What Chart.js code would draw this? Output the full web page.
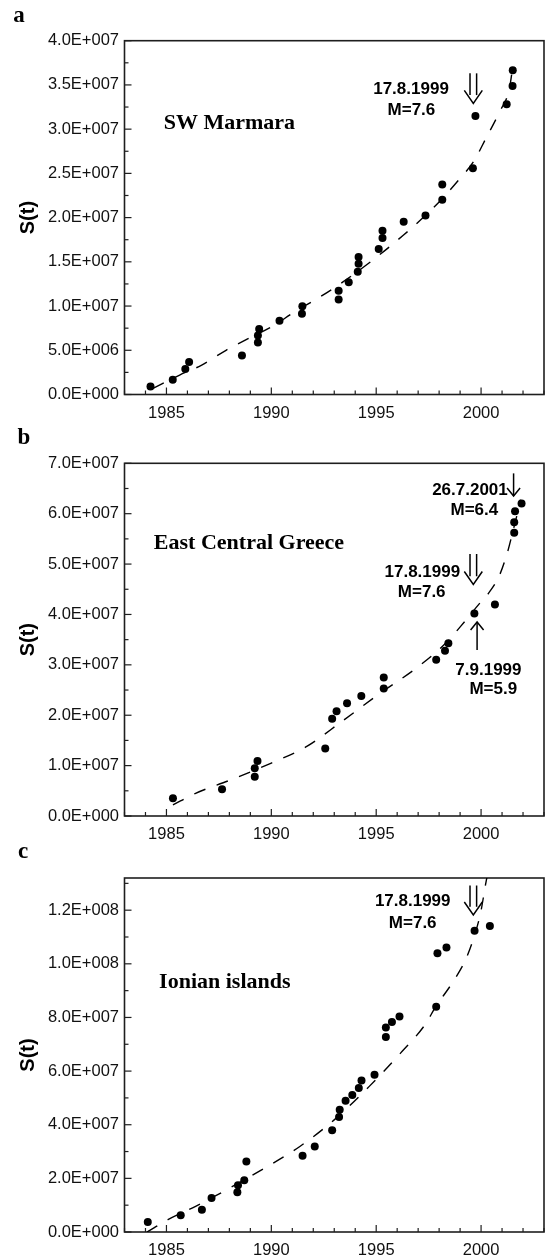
<!DOCTYPE html>
<html>
<head>
<meta charset="utf-8">
<script src="https://cdn.jsdelivr.net/npm/chart.js@4.4.1/dist/chart.umd.min.js"></script>
<style>
  body { margin: 0; background: #fff; }
  .wrap { position: absolute; left: 0; width: 548px; }
</style>
</head>
<body>
<div class="wrap" style="top:0px"><canvas id="marmara" width="548" height="425"></canvas></div>
<div class="wrap" style="top:425px"><canvas id="greece" width="548" height="420"></canvas></div>
<div class="wrap" style="top:845px"><canvas id="ionian" width="548" height="412"></canvas></div>
<script>
// a) SW Marmara
const marmaraYear = [1984.24, 1985.30, 1985.90, 1986.08, 1988.60, 1989.36, 1989.36, 1989.42, 1990.39, 1991.46,
  1991.48, 1993.21, 1993.21, 1993.69, 1994.12, 1994.16, 1994.16, 1995.12, 1995.30, 1995.30,
  1996.31, 1997.35, 1998.15, 1998.15, 1999.61, 1999.73, 2001.22, 2001.50, 2001.51];
const marmaraS = [0.9e6, 1.66e6, 2.89e6, 3.68e6, 4.42e6, 5.88e6, 6.68e6, 7.41e6, 8.33e6, 9.14e6,
  9.97e6, 10.73e6, 11.74e6, 12.68e6, 13.89e6, 14.79e6, 15.55e6, 16.45e6, 17.69e6, 18.52e6,
  19.52e6, 20.25e6, 22.01e6, 23.74e6, 25.59e6, 31.5e6, 32.82e6, 34.88e6, 36.65e6];
const marmaraFitYear = [1984.36, 1985.63, 1986.66, 1987.84, 1988.87, 1990.05, 1991.08, 1992.3, 1993.4, 1995.0,
  1996.29, 1997.24, 1998.09, 1998.93, 1999.66, 2000.24, 2000.87, 2001.35, 2001.53];
const marmaraFitS = [0.7e6, 2.2e6, 3.3e6, 5.0e6, 6.3e6, 7.7e6, 9.3e6, 11.0e6, 12.7e6, 15.5e6,
  18.0e6, 20.0e6, 22.0e6, 24.25e6, 26.4e6, 29.0e6, 31.9e6, 34.6e6, 37.4e6];

// b) East Central Greece
const greeceYear = [1985.31, 1987.65, 1989.21, 1989.21, 1989.34, 1992.57, 1992.90, 1993.11, 1993.61, 1994.29,
  1995.36, 1995.36, 1997.86, 1998.28, 1998.44, 1999.68, 2000.66, 2001.58, 2001.58, 2001.62, 2001.93];
const greeceS = [3.5e6, 5.3e6, 7.8e6, 9.5e6, 10.9e6, 13.4e6, 19.3e6, 20.8e6, 22.4e6, 23.8e6,
  25.3e6, 27.5e6, 31.0e6, 32.8e6, 34.3e6, 40.2e6, 42.0e6, 56.2e6, 58.3e6, 60.5e6, 62.0e6];
const greeceFitYear = [1985.31, 1986.39, 1988.05, 1990.0, 1991.69, 1993.34, 1995.2, 1996.99, 1998.31, 1999.22,
  1999.93, 2000.32, 2000.88, 2001.27, 2001.51, 2001.7, 2001.88];
const greeceFitS = [2.2e6, 4.5e6, 7.15e6, 10.5e6, 13.8e6, 18.7e6, 24.4e6, 29.6e6, 34.3e6, 38.6e6,
  42.2e6, 44.0e6, 47.8e6, 52.5e6, 56.4e6, 59.5e6, 62.8e6];

// c) Ionian islands
const ionianYear = [1984.11, 1985.68, 1986.69, 1987.15, 1988.38, 1988.41, 1988.71, 1988.81, 1991.49, 1992.07,
  1992.90, 1993.23, 1993.26, 1993.54, 1993.86, 1994.17, 1994.30, 1994.92, 1995.46, 1995.46,
  1995.75, 1996.11, 1997.86, 1997.92, 1998.35, 1999.69, 2000.42];
const ionianS = [3.7e6, 6.2e6, 8.3e6, 12.7e6, 14.8e6, 17.4e6, 19.3e6, 26.3e6, 28.4e6, 31.9e6,
  37.9e6, 42.9e6, 45.6e6, 48.9e6, 51.1e6, 53.7e6, 56.5e6, 58.6e6, 72.7e6, 76.3e6,
  78.3e6, 80.4e6, 84.0e6, 103.9e6, 106.1e6, 112.3e6, 114.1e6];
const ionianFitYear = [1984.07, 1985.07, 1986.39, 1987.88, 1989.7, 1991.36, 1993.01, 1994.67, 1996.16, 1997.32,
  1997.84, 1998.66, 1999.27, 1999.69, 1999.98, 2000.21, 2000.32];
const ionianFitS = [0, 4.6e6, 9.6e6, 15.8e6, 23.9e6, 31.9e6, 41.9e6, 54.3e6, 66.7e6, 77.2e6,
  84.0e6, 93.3e6, 101.7e6, 110.7e6, 119.1e6, 129.4e6, 134e6];

const yearTicks = [1985, 1990, 1995, 2000];

const SANS = "'Liberation Sans', Arial, sans-serif";
const SERIF = "'Liberation Serif', 'Times New Roman', serif";

function sciLabel(v) {
  const [m, e] = v.toExponential(1).split('e');
  return m + 'E' + e[0] + e.slice(1).padStart(3, '0');
}

function pairs(xs, ys) {
  return xs.map((x, i) => ({ x: x, y: ys[i] }));
}

function line(ctx, x1, y1, x2, y2) {
  ctx.beginPath(); ctx.moveTo(x1, y1); ctx.lineTo(x2, y2); ctx.stroke();
}

function drawArrow(ctx, x, yTop, yTip, kind) {
  ctx.lineWidth = 1.5;
  const d = yTip > yTop ? 1 : -1;
  if (kind === 'double') {
    const hw = 9, hh = 13, sw = 3.3;
    const ys = yTip - (hh * (hw - sw) / hw) * d;
    line(ctx, x - sw, yTop, x - sw, ys);
    line(ctx, x + sw, yTop, x + sw, ys);
    ctx.beginPath(); ctx.moveTo(x - hw, yTip - hh * d); ctx.lineTo(x, yTip); ctx.lineTo(x + hw, yTip - hh * d); ctx.stroke();
  } else {
    const hw = 6.5, hh = 8;
    line(ctx, x, yTop, x, yTip);
    ctx.beginPath(); ctx.moveTo(x - hw, yTip - hh * d); ctx.lineTo(x, yTip); ctx.lineTo(x + hw, yTip - hh * d); ctx.stroke();
  }
}

function panel(id, o) {
  const isMajor = v => Math.abs(v / o.major - Math.round(v / o.major)) < 1e-6;
  const yValues = [];
  for (let k = 0; k * o.minor <= o.ymax + 1; k++) yValues.push(k * o.minor);

  const deco = {
    id: 'deco',
    beforeDatasetsDraw(chart) {
      const { ctx, chartArea: a, scales: { x, y } } = chart;
      ctx.save();
      ctx.strokeStyle = '#1e1e1e';
      ctx.lineWidth = 1.2;
      for (let t = 1983; t <= 2003; t++) {
        const px = x.getPixelForValue(t);
        line(ctx, px, a.bottom, px, a.bottom - (t % 5 === 0 ? 7 : 4));
      }
      yValues.forEach(v => {
        const py = y.getPixelForValue(v);
        line(ctx, a.left, py, a.left + (isMajor(v) ? 7 : 4), py);
      });
      ctx.lineWidth = 1.6;
      ctx.strokeRect(a.left, a.top, a.right - a.left, a.bottom - a.top);
      ctx.restore();
    },
    afterDatasetsDraw(chart) {
      const { ctx, scales: { x, y } } = chart;
      ctx.save();
      ctx.fillStyle = '#000';
      ctx.strokeStyle = '#000';
      ctx.textBaseline = 'alphabetic';
      ctx.font = 'bold 23px ' + SERIF;
      ctx.textAlign = 'center';
      ctx.fillText(o.letter, o.letterX, o.letterY);
      ctx.font = 'bold 22px ' + SERIF;
      ctx.textAlign = 'left';
      ctx.fillText(o.region, x.getPixelForValue(o.regionAt[0]), y.getPixelForValue(o.regionAt[1]));
      ctx.font = 'bold 17px ' + SANS;
      ctx.textAlign = 'center';
      o.notes.forEach(n => ctx.fillText(n.text, x.getPixelForValue(n.at[0]), y.getPixelForValue(n.at[1])));
      o.arrows.forEach(ar => drawArrow(ctx, x.getPixelForValue(ar.year), y.getPixelForValue(ar.from),
        y.getPixelForValue(ar.to), ar.kind));
      ctx.restore();
    }
  };

  return new Chart(document.getElementById(id), {
    type: 'scatter',
    data: {
      datasets: [
        {
          data: pairs(o.xs, o.ys),
          pointRadius: 4,
          pointBackgroundColor: '#000',
          pointBorderWidth: 0,
          showLine: false
        },
        {
          data: pairs(o.fx, o.fy),
          showLine: true,
          borderColor: '#000',
          borderWidth: 1.4,
          borderDash: [12, 12],
          pointRadius: 0,
          cubicInterpolationMode: 'monotone'
        }
      ]
    },
    options: {
      responsive: false,
      animation: false,
      events: [],
      layout: { padding: { top: o.padTop, right: 1.4, left: 0, bottom: 0 } },
      plugins: { legend: { display: false }, tooltip: { enabled: false } },
      scales: {
        x: {
          type: 'linear',
          min: 1983,
          max: 2003,
          afterBuildTicks: s => { s.ticks = yearTicks.map(v => ({ value: v })); },
          afterFit: s => { s.height = o.xh; },
          grid: { display: false, drawTicks: false },
          border: { display: false },
          ticks: {
            autoSkip: false,
            maxRotation: 0,
            padding: 9,
            color: '#111',
            font: { family: SANS, size: 16.5 },
            callback: v => String(v)
          }
        },
        y: {
          min: 0,
          max: o.ymax,
          afterBuildTicks: s => { s.ticks = yValues.filter(isMajor).map(v => ({ value: v })); },
          afterFit: s => { s.width = 124.5; },
          grid: { display: false, drawTicks: false },
          border: { display: false },
          ticks: {
            autoSkip: false,
            padding: 5.5,
            color: '#111',
            font: { family: SANS, size: 16.5 },
            callback: v => sciLabel(v)
          },
          title: {
            display: true,
            text: 'S(t)',
            color: '#000',
            font: { family: SANS, size: 20, weight: 'bold' },
            padding: { top: 16, bottom: 0 }
          }
        }
      }
    },
    plugins: [deco]
  });
}

panel('marmara', {
  xs: marmaraYear, ys: marmaraS, fx: marmaraFitYear, fy: marmaraFitS,
  ymax: 4e7, major: 5e6, minor: 2.5e6, padTop: 40.7, xh: 30.5,
  letter: 'a', letterX: 19, letterY: 22,
  region: 'SW Marmara', regionAt: [1984.87, 29.98e6],
  notes: [
    { text: '17.8.1999', at: [1996.66, 33.97e6] },
    { text: 'M=7.6', at: [1996.68, 31.6e6] }
  ],
  arrows: [{ year: 1999.63, from: 36.31e6, to: 32.92e6, kind: 'double' }]
});

panel('greece', {
  xs: greeceYear, ys: greeceS, fx: greeceFitYear, fy: greeceFitS,
  ymax: 7e7, major: 1e7, minor: 5e6, padTop: 38.3, xh: 29,
  letter: 'b', letterX: 24, letterY: 19,
  region: 'East Central Greece', regionAt: [1984.40, 52.93e6],
  notes: [
    { text: '26.7.2001', at: [1999.47, 63.71e6] },
    { text: 'M=6.4', at: [1999.68, 59.74e6] },
    { text: '17.8.1999', at: [1997.20, 47.53e6] },
    { text: 'M=7.6', at: [1997.17, 43.37e6] },
    { text: '7.9.1999', at: [2000.35, 27.98e6] },
    { text: 'M=5.9', at: [2000.58, 24.15e6] }
  ],
  arrows: [
    { year: 2001.55, from: 68.0e6, to: 63.5e6, kind: 'single' },
    { year: 1999.63, from: 52.0e6, to: 45.95e6, kind: 'double' },
    { year: 1999.81, from: 32.95e6, to: 38.5e6, kind: 'single' }
  ]
});

panel('ionian', {
  xs: ionianYear, ys: ionianS, fx: ionianFitYear, fy: ionianFitS,
  ymax: 1.32e8, major: 2e7, minor: 1e7, padTop: 33, xh: 25,
  letter: 'c', letterX: 23, letterY: 13,
  region: 'Ionian islands', regionAt: [1984.65, 90.87e6],
  notes: [
    { text: '17.8.1999', at: [1996.74, 121.4e6] },
    { text: 'M=7.6', at: [1996.74, 113.2e6] }
  ],
  arrows: [{ year: 1999.63, from: 129.2e6, to: 118.2e6, kind: 'double' }]
});
</script>
</body>
</html>
